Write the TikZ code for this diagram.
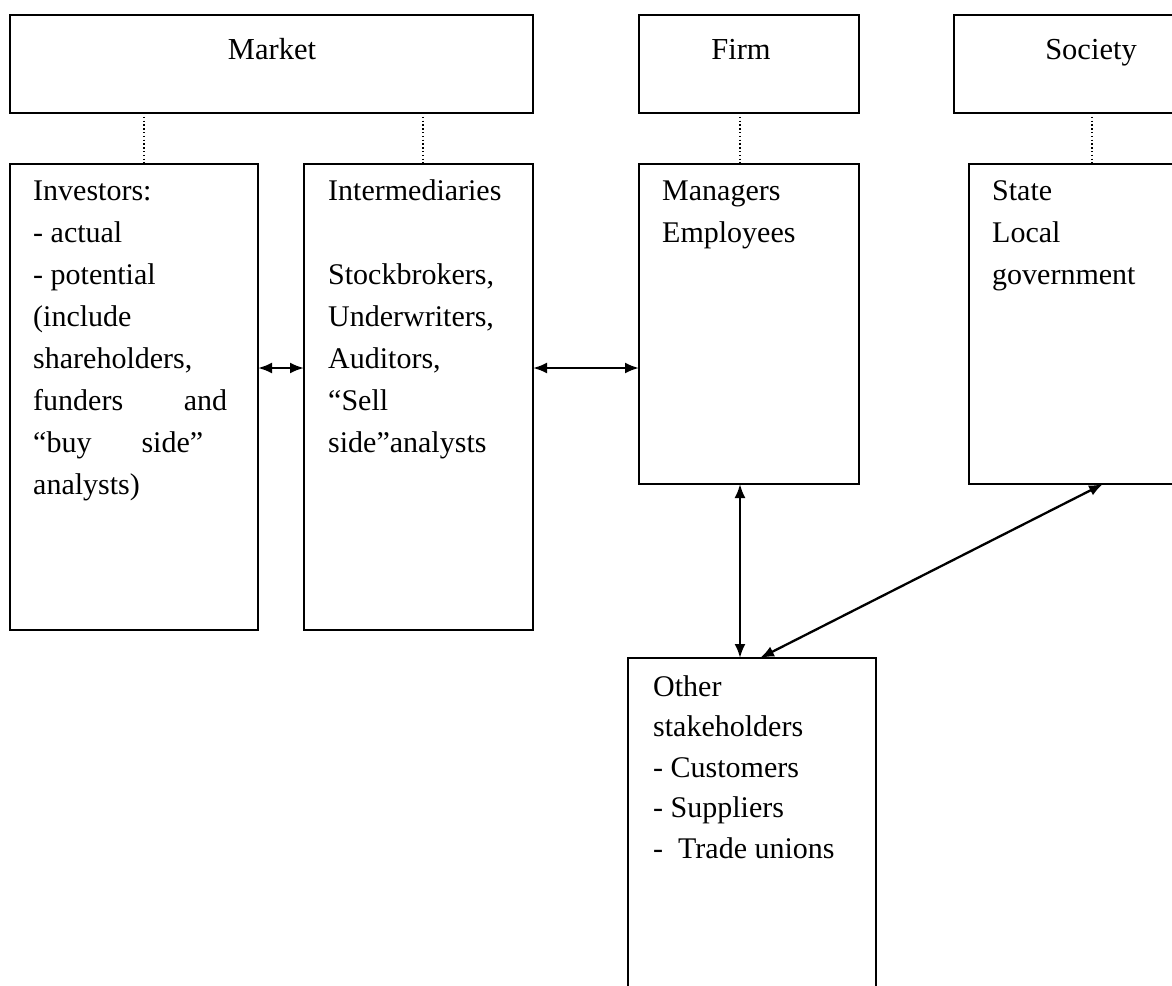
\documentclass[tikz,border=0pt]{standalone}
\usepackage{fontspec}
\setmainfont{Liberation Serif}
\usetikzlibrary{arrows.meta,fit}
\tikzset{
  x=1pt, y=-1pt,
  box/.style={draw, line width=2.2pt, inner sep=0pt, outer sep=0pt},
  txt/.style={anchor=base west, inner sep=0pt, font=\fontsize{30}{42}\selectfont},
  ctxt/.style={anchor=base, inner sep=0pt, font=\fontsize{30.5}{42}\selectfont},
  dotline/.style={line width=1.5pt, dash pattern=on 1.4pt off 2.4pt},
  arr/.style={line width=2.3pt, {Latex[length=14pt,width=11pt]}-{Latex[length=14pt,width=11pt]}},
}
\begin{document}
\begin{tikzpicture}
\useasboundingbox (0,0) rectangle (1172,985);
\clip (0,0) rectangle (1172,985);
% boxes
\node[box, fit={(10,15) (533,113)}] (market) {};
\node[box, fit={(639,15) (859,113)}] (firm) {};
\node[box, fit={(954,15) (1230,113)}] (society) {};
\node[box, fit={(10,164) (258,630)}] (inv) {};
\node[box, fit={(304,164) (533,630)}] (inter) {};
\node[box, fit={(639,164) (859,484)}] (mgr) {};
\node[box, fit={(969,164) (1230,484)}] (state) {};
\node[box, fit={(628,658) (876,1030)}] (other) {};
% titles
\node[ctxt] (tmarket) at (272,59) {Market};
\node[ctxt] (tfirm) at (741,59) {Firm};
\node[ctxt] (tsociety) at (1091,59) {Society};
% texts
\node[txt] (tinv) at (33,200) {\parbox[t]{230pt}{\raggedright Investors:\\
- actual\\
- potential\\
(include\\
shareholders,\\
\makebox[194pt][s]{funders and}\\
\makebox[170pt][s]{“buy side”}\\
analysts)}};
\node[txt] (tinter) at (328,200) {\parbox[t]{210pt}{\raggedright Intermediaries\\
\mbox{}\\
Stockbrokers,\\
Underwriters,\\
Auditors,\\
“Sell\\
side”analysts}};
\node[txt] (tmgr) at (662,200) {\parbox[t]{190pt}{\raggedright Managers\\
Employees}};
\node[txt] (tstate) at (992,200) {\parbox[t]{190pt}{\raggedright State\\
Local\\
government}};
\node[txt, font=\fontsize{30}{40.5}\selectfont] (tother) at (653,696) {\parbox[t]{220pt}{\raggedright Other\\
stakeholders\\
- Customers\\
- Suppliers\\
-\ \ Trade unions}};
% dotted links
\coordinate (d1) at (144,0);
\coordinate (d2) at (423,0);
\coordinate (d3) at (740,0);
\coordinate (d4) at (1092,0);
\draw[dotline] (market.south -| d1) -- (inv.north -| d1);
\draw[dotline] (market.south -| d2) -- (inter.north -| d2);
\draw[dotline] (firm.south -| d3) -- (mgr.north -| d3);
\draw[dotline] (society.south -| d4) -- (state.north -| d4);
% arrows
\coordinate (h) at (0,368);
\coordinate (v1) at (740,0);
\coordinate (s1) at (1103,0);
\coordinate (o1) at (760,0);
\draw[arr] (inv.east |- h) -- (inter.west |- h);
\draw[arr] (inter.east |- h) -- (mgr.west |- h);
\draw[arr] (mgr.south -| v1) -- (other.north -| v1);
\draw[arr] (state.south -| s1) -- (other.north -| o1);
\end{tikzpicture}
\end{document}
